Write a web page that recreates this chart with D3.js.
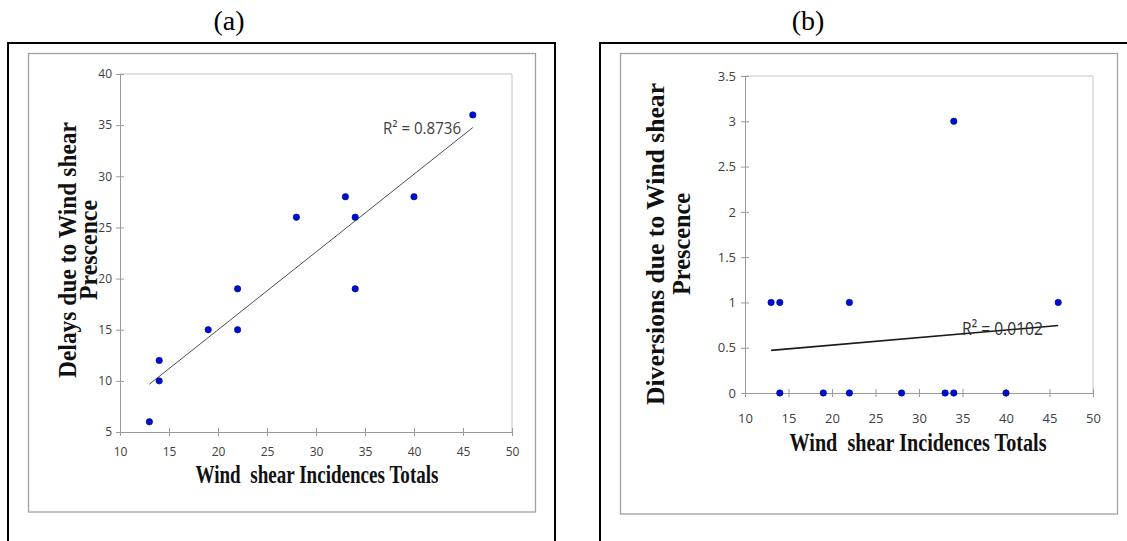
<!DOCTYPE html>
<html>
<head>
<meta charset="utf-8">
<script src="https://cdn.jsdelivr.net/npm/d3@7"></script>
<style>
  html, body { margin: 0; padding: 0; background: #fff; }
  svg { display: block; }
</style>
</head>
<body>
<svg id="chart" width="1127" height="541"></svg>
<script>
// Wind shear incidences per period (shared x values for both panels)
const incidences = [13, 14, 14, 19, 22, 22, 28, 33, 34, 34, 40, 46];
// Panel (a): delays caused by wind shear
const delays = [6, 12, 10, 15, 19, 15, 26, 28, 26, 19, 28, 36];
// Panel (b): diversions caused by wind shear
const diversions = [1, 1, 0, 0, 1, 0, 0, 0, 3, 0, 0, 1];

const xTicks = [10, 15, 20, 25, 30, 35, 40, 45, 50];
const delayTicks = [5, 10, 15, 20, 25, 30, 35, 40];
const diversionTicks = [0, 0.5, 1, 1.5, 2, 2.5, 3, 3.5];

const panelLabels = ["(a)", "(b)"];
const xTitle = "Wind  shear Incidences Totals";
const yTitlesA = ["Delays due to Wind shear", "Prescence"];
const yTitlesB = ["Diversions due to Wind shear", "Prescence"];

const svg = d3.select("#chart");

// Least-squares fit and coefficient of determination
function linearFit(xs, ys) {
  const n = xs.length;
  const mx = d3.mean(xs), my = d3.mean(ys);
  let sxy = 0, sxx = 0, syy = 0;
  for (let i = 0; i < n; i++) {
    sxy += (xs[i] - mx) * (ys[i] - my);
    sxx += (xs[i] - mx) ** 2;
    syy += (ys[i] - my) ** 2;
  }
  const slope = sxy / sxx;
  return { slope, intercept: my - slope * mx, r2: (sxy * sxy) / (sxx * syy) };
}

function drawPanel(cfg) {
  const g = svg.append("g");

  // outer black frame (runs off the bottom of the page)
  g.append("rect")
    .attr("x", cfg.outer[0]).attr("y", cfg.outer[1])
    .attr("width", cfg.outer[2]).attr("height", cfg.outer[3])
    .attr("fill", "none").attr("stroke", "#000").attr("stroke-width", 2);

  // chart-area gray frame
  g.append("rect")
    .attr("x", cfg.inner[0]).attr("y", cfg.inner[1])
    .attr("width", cfg.inner[2]).attr("height", cfg.inner[3])
    .attr("fill", "#fff").attr("stroke", "#a0a0a0").attr("stroke-width", 1.3);

  // panel label above
  svg.append("text")
    .attr("x", cfg.labelX).attr("y", 30)
    .attr("text-anchor", "middle")
    .attr("font-family", "'Liberation Serif', 'DejaVu Serif', serif")
    .attr("font-size", 28)
    .text(cfg.label);

  const [x0, x1, y0, y1] = cfg.plot; // left, right, top, bottom
  const x = d3.scaleLinear().domain([10, 50]).range([x0, x1]);
  const y = d3.scaleLinear().domain(cfg.yDomain).range([y1, y0]);

  // plot-area frame: top and right edges
  g.append("path")
    .attr("d", `M${x0},${y0}H${x1}V${y1}`)
    .attr("fill", "none").attr("stroke", "#c4c4c4").attr("stroke-width", 1);

  const tickFont = "'Liberation Sans Narrow', 'Open Sans', 'Noto Sans', sans-serif";

  // x axis
  const xAxis = g.append("g")
    .attr("transform", `translate(0,${y1})`)
    .call(d3.axisBottom(x).tickValues(xTicks).tickSize(0).tickPadding(cfg.xPad).tickFormat(d3.format("d")));
  xAxis.select(".domain").attr("stroke", "#9a9a9a");
  xAxis.selectAll(".tick").append("line")
    .attr("y1", -4).attr("y2", 4).attr("stroke", "#9a9a9a");
  xAxis.selectAll("text")
    .attr("fill", "#404040").attr("font-family", tickFont).attr("font-size", cfg.tickSize);

  // y axis
  const yAxis = g.append("g")
    .attr("transform", `translate(${x0},0)`)
    .call(d3.axisLeft(y).tickValues(cfg.yTicks).tickSize(0).tickPadding(cfg.yPad).tickFormat(d => String(d)));
  yAxis.select(".domain").attr("stroke", "#9a9a9a");
  yAxis.selectAll(".tick").append("line")
    .attr("x1", -4).attr("x2", 4).attr("stroke", "#9a9a9a");
  yAxis.selectAll("text")
    .attr("fill", "#404040").attr("font-family", tickFont).attr("font-size", cfg.tickSize);

  // axis titles
  const serifBold = "'Liberation Serif', 'DejaVu Serif', serif";
  g.append("text")
    .attr("x", cfg.xTitle[0]).attr("y", cfg.xTitle[1])
    .attr("text-anchor", "middle")
    .attr("font-family", serifBold).attr("font-weight", "bold")
    .attr("font-size", 26)
    .attr("textLength", cfg.xTitle[2]).attr("lengthAdjust", "spacingAndGlyphs")
    .attr("fill", "#111")
    .style("white-space", "pre")
    .text(xTitle);

  cfg.yTitles.forEach((t, i) => {
    const [cx, cy, len] = cfg.yTitlePos[i];
    g.append("text")
      .attr("transform", `translate(${cx},${cy}) rotate(-90)`)
      .attr("text-anchor", "middle")
      .attr("dominant-baseline", "central")
      .attr("font-family", serifBold).attr("font-weight", "bold")
      .attr("font-size", 25)
      .attr("textLength", len).attr("lengthAdjust", "spacingAndGlyphs")
      .attr("fill", "#111")
      .text(t);
  });

  // trendline
  const fit = linearFit(incidences, cfg.values);
  const xa = d3.min(incidences), xb = d3.max(incidences);
  g.append("line")
    .attr("x1", x(xa)).attr("y1", y(fit.intercept + fit.slope * xa))
    .attr("x2", x(xb)).attr("y2", y(fit.intercept + fit.slope * xb))
    .attr("stroke", cfg.lineColor).attr("stroke-width", cfg.lineWidth);

  // data points
  g.selectAll("circle.pt")
    .data(incidences.map((v, i) => [v, cfg.values[i]]))
    .join("circle")
    .attr("class", "pt")
    .attr("cx", d => x(d[0])).attr("cy", d => y(d[1]))
    .attr("r", 3.2)
    .attr("fill", "#0010d0").attr("stroke", "#000080").attr("stroke-width", 0.6);

  // R² label
  g.append("text")
    .attr("x", cfg.r2Pos[0]).attr("y", cfg.r2Pos[1])
    .attr("font-family", tickFont)
    .attr("font-size", cfg.r2Size)
    .attr("textLength", cfg.r2Pos[2]).attr("lengthAdjust", "spacingAndGlyphs")
    .attr("fill", cfg.r2Color)
    .text(`R² = ${fit.r2.toFixed(4)}`);
}

drawPanel({
  label: panelLabels[0], labelX: 229,
  outer: [8, 43, 547, 520],
  inner: [28.5, 53.5, 507, 458.5],
  plot: [120, 512, 74, 432],
  yDomain: [5, 40], yTicks: delayTicks, values: delays,
  tickSize: 12, xPad: 15, yPad: 8,
  xTitle: [317, 483, 243],
  yTitles: yTitlesA,
  yTitlePos: [[67, 250, 256], [88, 250, 100]],
  lineColor: "#505050", lineWidth: 1,
  r2Pos: [383, 134, 78], r2Size: 16, r2Color: "#404040"
});

drawPanel({
  label: panelLabels[1], labelX: 808,
  outer: [600, 43, 540, 520],
  inner: [620.5, 53.5, 497, 460.5],
  plot: [745, 1093, 76, 393],
  yDomain: [0, 3.5], yTicks: diversionTicks, values: diversions,
  tickSize: 13, xPad: 21, yPad: 9,
  xTitle: [918, 451, 257],
  yTitles: yTitlesB,
  yTitlePos: [[655, 244, 322], [681, 244, 102]],
  lineColor: "#1a1a1a", lineWidth: 1.6,
  r2Pos: [962, 335, 81], r2Size: 19, r2Color: "#303030"
});
</script>
</body>
</html>
